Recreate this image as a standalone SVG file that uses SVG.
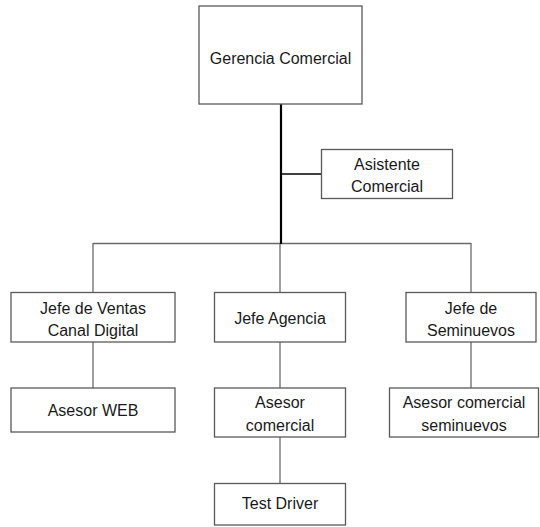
<svg xmlns="http://www.w3.org/2000/svg" width="540" height="527" viewBox="0 0 540 527">
  <style>
    .box { fill: #ffffff; stroke: #595959; stroke-width: 1.3; }
    .lbl { font-family: "Liberation Sans", Arial, sans-serif; font-size: 16px; fill: #1a1a1a; text-anchor: middle; }
    .link { stroke: #6a6a6a; stroke-width: 1.3; fill: none; }
    .trunk { stroke: #000000; stroke-width: 2.2; fill: none; }
    .side { stroke: #000000; stroke-width: 1.5; fill: none; }
  </style>
  <rect width="540" height="527" fill="#ffffff"/>

  <g id="connectors">
    <line class="link" x1="93" y1="243.5" x2="471" y2="243.5"/>
    <line class="link" x1="93" y1="243" x2="93" y2="292.5"/>
    <line class="link" x1="280" y1="243" x2="280" y2="292.5"/>
    <line class="link" x1="471" y1="243" x2="471" y2="292.5"/>
    <line class="link" x1="93" y1="342" x2="93" y2="388"/>
    <line class="link" x1="280" y1="342" x2="280" y2="388"/>
    <line class="link" x1="280" y1="437" x2="280" y2="483.5"/>
    <line class="link" x1="471" y1="342" x2="471" y2="388"/>
    <line class="trunk" x1="281" y1="104" x2="281" y2="244"/>
    <line class="side" x1="281" y1="174" x2="321.5" y2="174"/>
  </g>

  <g id="gerencia-comercial">
    <rect class="box" x="199" y="6" width="163" height="98"/>
    <text class="lbl" x="280.5" y="63.5">Gerencia Comercial</text>
  </g>

  <g id="asistente-comercial">
    <rect class="box" x="321.5" y="149.5" width="131" height="49"/>
    <text class="lbl" x="387" y="169.5">Asistente</text>
    <text class="lbl" x="387" y="192">Comercial</text>
  </g>

  <g id="jefe-ventas-digital">
    <rect class="box" x="11" y="292.5" width="164" height="49.5"/>
    <text class="lbl" x="93" y="313.5">Jefe de Ventas</text>
    <text class="lbl" x="93" y="336">Canal Digital</text>
  </g>

  <g id="jefe-agencia">
    <rect class="box" x="214.5" y="292.5" width="131" height="49.5"/>
    <text class="lbl" x="280" y="324">Jefe Agencia</text>
  </g>

  <g id="jefe-seminuevos">
    <rect class="box" x="406" y="292.5" width="130" height="49.5"/>
    <text class="lbl" x="471" y="313.5">Jefe de</text>
    <text class="lbl" x="471" y="336">Seminuevos</text>
  </g>

  <g id="asesor-web">
    <rect class="box" x="11" y="388" width="164" height="44"/>
    <text class="lbl" x="93" y="415.5">Asesor WEB</text>
  </g>

  <g id="asesor-comercial">
    <rect class="box" x="214.5" y="388" width="131" height="49"/>
    <text class="lbl" x="280" y="408">Asesor</text>
    <text class="lbl" x="280" y="430.5">comercial</text>
  </g>

  <g id="asesor-comercial-seminuevos">
    <rect class="box" x="389.5" y="388" width="149" height="49"/>
    <text class="lbl" x="464" y="408">Asesor comercial</text>
    <text class="lbl" x="464" y="430.5">seminuevos</text>
  </g>

  <g id="test-driver">
    <rect class="box" x="214.5" y="483.5" width="131" height="41.5"/>
    <text class="lbl" x="280" y="509">Test Driver</text>
  </g>
</svg>
